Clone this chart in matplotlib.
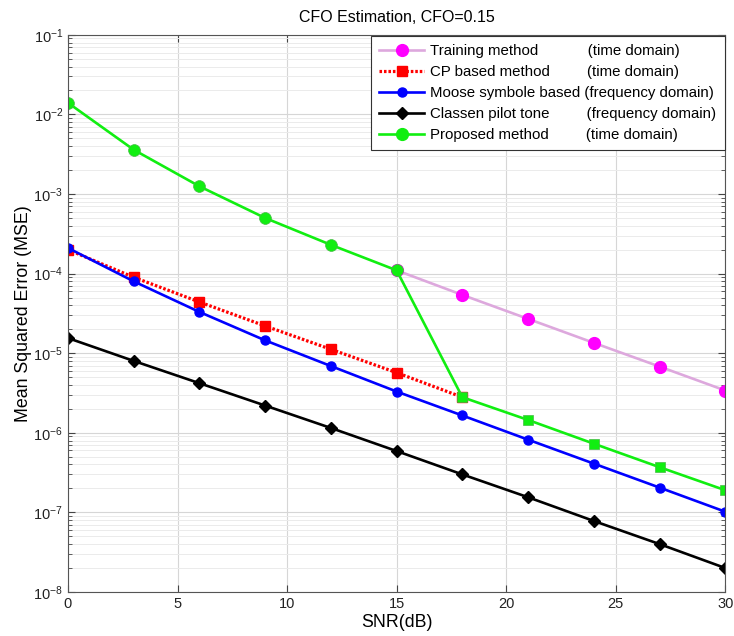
import matplotlib
matplotlib.use("Agg")
import matplotlib.pyplot as plt
from matplotlib.lines import Line2D
from matplotlib.font_manager import FontProperties
from matplotlib.ticker import LogLocator, NullFormatter, MultipleLocator, FixedLocator

plt.rcParams["font.family"] = ["Liberation Sans", "DejaVu Sans"]
plt.rcParams["mathtext.default"] = "regular"

snr = [0, 3, 6, 9, 12, 15, 18, 21, 24, 27, 30]
snr_training = [15, 18, 21, 24, 27, 30]
mse_training = [1.1e-4, 5.4e-5, 2.7e-5, 1.35e-5, 6.8e-6, 3.4e-6]
snr_cp = [0, 3, 6, 9, 12, 15, 18]
mse_cp = [2.0e-4, 9.0e-5, 4.4e-5, 2.2e-5, 1.12e-5, 5.7e-6, 2.8e-6]
mse_moose = [2.1e-4, 8.0e-5, 3.3e-5, 1.45e-5, 6.9e-6, 3.3e-6, 1.65e-6, 8.2e-7, 4.1e-7, 2.05e-7, 1.02e-7]
mse_classen = [1.55e-5, 8.0e-6, 4.2e-6, 2.2e-6, 1.15e-6, 5.9e-7, 3.0e-7, 1.55e-7, 7.8e-8, 4.0e-8, 2.0e-8]
mse_proposed = [1.4e-2, 3.6e-3, 1.25e-3, 5.0e-4, 2.3e-4, 1.1e-4, 2.8e-6, 1.45e-6, 7.3e-7, 3.7e-7, 1.9e-7]
split = 6  # proposed: circle markers up to 15 dB, squares after
decades = [1e-8, 1e-7, 1e-6, 1e-5, 1e-4, 1e-3, 1e-2, 1e-1]

methods = ["Training method", "CP based method", "Moose symbole based",
           "Classen pilot tone", "Proposed method"]
domains = ["(time domain)", "(time domain)", "(frequency domain)",
           "(frequency domain)", "(time domain)"]

fig = plt.figure(figsize=(7.34, 6.36), dpi=100)
ax = fig.add_axes([0.0926, 0.0692, 0.8955, 0.876])

green = "#11ee11"
lw = 1.9
h1, = ax.plot(snr_training, mse_training, color="#dda8dd", lw=lw, marker="o", ms=8.5,
              mfc="#ff00ff", mec="#ff00ff")
h2, = ax.plot(snr_cp, mse_cp, color="#ff0000", lw=2.3, ls=(0, (0.8, 0.6)), marker="s", ms=7.5,
              mfc="#ff0000", mec="#ff0000")
h3, = ax.plot(snr, mse_moose, color="#0000ff", lw=lw, marker="o", ms=6.5,
              mfc="#0000ff", mec="#0000ff")
h4, = ax.plot(snr, mse_classen, color="#000000", lw=lw, marker="D", ms=6.5,
              mfc="#000000", mec="#000000")
ax.plot(snr, mse_proposed, color=green, lw=lw)
ax.plot(snr[:split], mse_proposed[:split], ls="none", marker="o", ms=8.5, mfc=green,
        mec="#44bb44", mew=0.5)
ax.plot(snr[split:], mse_proposed[split:], ls="none", marker="s", ms=7.5, mfc=green,
        mec="#44bb44", mew=0.5)
h5 = Line2D([], [], color=green, lw=lw, marker="o", ms=8.5, mfc=green, mec=green)

ax.set_yscale("log")
ax.set_xlim(0, 30)
ax.set_ylim(1e-8, 1e-1)
ax.xaxis.set_major_locator(MultipleLocator(5))
ax.yaxis.set_major_locator(FixedLocator(decades))
ax.yaxis.set_minor_locator(LogLocator(base=10, subs=range(2, 10), numticks=20))
ax.yaxis.set_minor_formatter(NullFormatter())
ax.tick_params(which="both", direction="in", top=True, right=True, colors="#444444",
               labelcolor="#222222", labelsize=10.5)
ax.tick_params(which="major", length=5)
ax.tick_params(which="minor", length=3)
ax.grid(True, which="major", color="#d6d6d6", lw=0.8)
ax.grid(True, which="minor", axis="y", color="#ebebeb", lw=0.7)
for s in ax.spines.values():
    s.set_color("#555555")
    s.set_linewidth(0.8)

ax.set_xlabel("SNR(dB)", fontsize=12.8)
ax.xaxis.set_label_coords(0.5, -0.040)
ax.set_ylabel("Mean Squared Error (MSE)", fontsize=12.8)
ax.yaxis.set_label_coords(-0.054, 0.5)
ax.set_title("CFO Estimation, CFO=0.15", fontsize=11.5, pad=9.5)

# pad method names with spaces so the domain column lines up
leg_size = 10.8
fp = FontProperties(family=["Liberation Sans"], size=leg_size)
renderer = fig.canvas.get_renderer()
space_w = renderer.get_text_width_height_descent("a a", fp, ismath=False)[0] - \
          renderer.get_text_width_height_descent("aa", fp, ismath=False)[0]
column = 156
labels = []
for m, d in zip(methods, domains):
    w = renderer.get_text_width_height_descent(m, fp, ismath=False)[0]
    n = max(1, int(round((column - w) / space_w)))
    labels.append(m + " " * n + d)

leg = ax.legend([h1, h2, h3, h4, h5], labels, loc="upper right", fontsize=leg_size,
                frameon=True, fancybox=False, edgecolor="#333333", framealpha=1,
                handlelength=3.0, handletextpad=0.4, borderaxespad=0.05, labelspacing=0.47,
                borderpad=0.55)
leg.get_frame().set_linewidth(0.8)

fig.savefig("out.png", dpi=100)
